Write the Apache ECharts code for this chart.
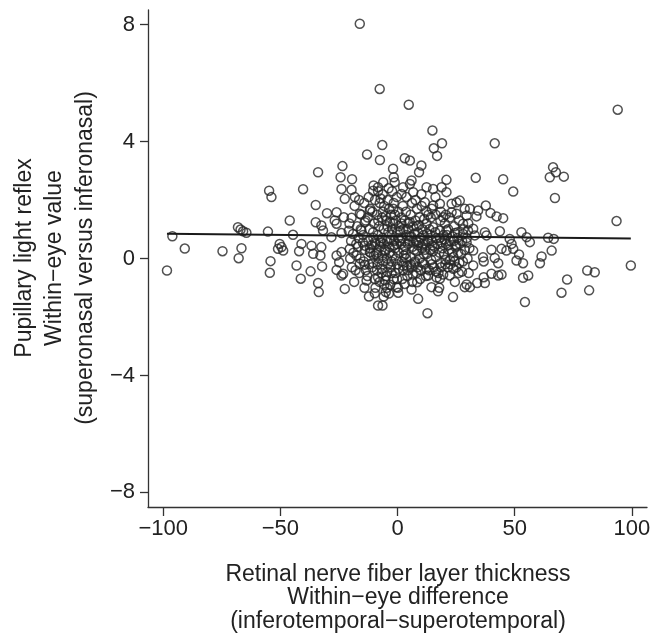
<!DOCTYPE html>
<html><head><meta charset="utf-8">
<script src="https://cdn.jsdelivr.net/npm/echarts@6/dist/echarts.min.js"></script>
<style>html,body{margin:0;padding:0;background:#fff}#c{width:663px;height:633px}</style>
</head><body><div id="c"></div>
<script>
const outerPoints = [
[-16.1,8.03],[-7.6,5.8],[4.8,5.26],[94,5.09],[14.9,4.38],[41.5,3.94],[15.5,3.77],[19,3.94],[16.9,3.51],[-6.5,3.88],[-7.5,3.37],[3.1,3.43],[5.3,3.35],[-1.9,3.07],[-1.6,2.78],[10.2,3.18],[9.2,2.95],[6,2.67],[20.9,2.69],
[-33.9,2.95],[-23.5,3.16],[-24.3,2.78],[-19.4,2.71],[-13,3.56],
[33.4,2.76],[45.1,2.71],[66.4,3.12],[67.6,2.95],[65,2.78],[71,2.8],
[93.5,1.28],[99.6,-0.24],[72.4,-0.72],[81,-0.41],[84.2,-0.47],[81.8,-1.09],[70,-1.17],
[-54.8,2.32],[-53.8,2.1],[-96.1,0.76],[-90.8,0.34],[-98.4,-0.41],[-74.7,0.25],[-68.1,1.07],[-67,0.99],[-65.9,0.93],[-64.5,0.88],[-66.6,0.35],[-67.8,0.01],[-55.3,0.92],[-54.2,-0.09],[-54.5,-0.49],[-50.3,0.5],[-49.5,0.39],[-51,0.33],[-48.8,0.27],[-46,1.3],
[-40.3,2.37],[-23.9,2.38],[-19.6,2.35],[-22.5,2.04],[-18.2,2.1],[-10.4,2.32],[-8.3,2.44],[-34.9,1.83],[-30.1,1.55],[-26,1.58],[-26.8,1.3],[-22.9,1.41],[-19.6,1.39],[-34.9,1.24],[-32.5,1.13],[-31.8,0.96],[-26,1.19],[-23.9,0.87],[-44.6,0.81],[-28.2,0.73],[-19,0.84],[-15.4,0.96],[-14,1.24],[-11.8,1.64],[-16.1,1.53],[-41,0.5],[-42,0.25],[-36.7,0.44],[-32.5,0.39],[-36,0.16],[-32.9,0.1],[-23.9,0.22],[-26,0.1],[-20.4,0.33],[-17.5,0.1],[-14,0.44],[-9.7,0.56],[-11.8,0.22],
[-6.1,2.61],[-1.2,2.61],[2.4,2.44],[5.3,2.55],[6.7,2.27],[1.7,2.21],[3.8,2.1],[12.4,2.44],[15.2,2.38],[18.8,2.44],[20.9,2.27],[11.7,1.92],[15.2,1.81],[18.1,1.87],[23.1,1.87],[25.2,1.92],[26.6,1.98],[28.7,1.7],[25.2,1.53],[23.1,1.58],[19.5,1.41],[28,1.19],[29.5,1.47],[9.5,1.41],[12.4,1.19],[15.2,1.07],[18.1,0.96],[20.9,0.96],[24.5,0.87],[28,0.84],[30.1,0.96],
[49.4,2.29],[67.2,2.07],[30.9,1.7],[34.4,1.64],[37.7,1.81],[39.7,1.56],[42.3,1.44],[45.1,1.38],[33.7,1.44],[32.3,1.02],[37.3,0.9],[33,0.79],[38,0.79],[43.7,0.93],[52.9,0.9],[55.1,0.73],[56.5,0.56],[47.9,0.67],[48.7,0.5],[46.5,0.27],[44.4,0.33],[40.1,0.3],[49.4,0.33],[64.3,0.71],[66.7,0.67],[65.8,0.27],[61.5,0.07],[51.9,0.14],[41.5,0.02],[36.5,0.04],[32.3,0.27],
[-43.1,-0.24],[-41.3,-0.69],[-37.1,-0.44],[-32.2,-0.27],[-26,-0.39],[-24.9,-0.13],[-33.9,-0.84],[-33.6,-1.15],[-23.9,-0.58],[-23.2,-0.52],[-22.5,-1.04],[-16.1,-0.18],[-14,-0.21],[-13.2,-0.75],[-9.7,-1.19],[-8.3,-1.61],[-8.3,-0.64],
[-5,-1.15],[-0.4,-0.98],[0.3,-1.17],[6,-1.06],[3.1,-0.87],[8.4,-0.81],[8.8,-1.38],[-6.4,-1.61],[12.8,-1.87],[14.5,-0.98],[17.3,-1.12],[23.7,-1.32],[28.7,-0.98],[29.5,-0.89],[13.1,-0.58],[18.1,-0.69],[22.3,-0.58],[25.2,-0.3],
[32.3,-0.24],[36.8,-0.1],[43,-0.16],[50.8,-0.07],[53.6,-0.16],[60.8,-0.16],[30.9,-0.98],[34,-0.84],[36.8,-0.64],[37.3,-0.84],[40.1,-0.52],[43,-0.58],[44.4,-0.55],[53.6,-0.66],[55.8,-0.58],[54.4,-1.49]
];
const corePoints = [
[-20.5,1.2],[-19.8,0.6],[-20.2,0.0],[-19.5,-0.3],[-20.8,0.95],
[-18.3,1.8],[-17.6,0.5],[-18.8,0.2],[-17.9,-0.4],[-18.5,-0.8],[-17.2,1.1],
[-16.4,2.0],[-15.7,1.0],[-16.8,0.4],[-15.9,0.0],[-16.3,-0.5],[-15.5,1.5],[-16.6,0.7],
[-14.2,1.9],[-13.6,1.3],[-14.7,0.8],[-13.9,0.3],[-14.4,-0.1],[-13.5,-0.4],[-14.1,-1.0],[-14.8,0.55],
[-12.3,2.1],[-11.6,1.7],[-12.7,1.4],[-11.9,1.0],[-12.4,0.6],[-11.5,0.2],[-12.1,-0.2],[-12.8,-0.6],[-11.7,0.35],[-12.2,-1.3],
[-10.2,2.5],[-9.6,2.0],[-10.7,1.6],[-9.9,1.2],[-10.4,0.9],[-9.5,0.5],[-10.1,0.1],[-10.8,-0.3],[-9.7,-0.7],[-10.3,0.7],[-9.4,-1.0],
[-8.3,2.3],[-7.6,1.9],[-8.7,1.5],[-7.9,1.1],[-8.4,0.8],[-7.5,0.4],[-8.1,0.0],[-8.8,-0.4],[-7.7,-0.8],[-8.2,1.3],[-7.4,0.6],[-8.6,0.2],
[-6.3,2.2],[-5.7,1.8],[-6.6,1.4],[-5.9,1.0],[-6.4,0.7],[-5.5,0.3],[-6.1,-0.1],[-6.8,-0.5],[-5.6,-0.9],[-6.2,1.6],[-5.8,0.5],[-6.5,0.1],[-5.9,-1.3],
[-4.2,2.0],[-3.6,1.7],[-4.7,1.3],[-3.9,0.9],[-4.4,0.6],[-3.5,0.2],[-4.1,-0.2],[-4.8,-0.6],[-3.7,-1.2],[-4.3,1.1],[-3.4,0.4],[-4.6,0.0],[-3.8,2.4],
[-2.3,2.3],[-1.6,1.9],[-2.7,1.5],[-1.9,1.2],[-2.4,0.8],[-1.5,0.45],[-2.1,0.1],[-2.8,-0.3],[-1.7,-0.7],[-2.2,1.0],[-1.4,0.6],[-2.6,-0.1],[-1.8,1.7],
[-0.3,2.1],[0.4,1.6],[-0.7,1.3],[0.1,0.9],[-0.4,0.5],[0.5,0.2],[-0.1,-0.2],[-0.8,-0.5],[0.3,0.7],[-0.6,0.0],[0.6,1.1],[-0.2,-0.7],
[2.3,1.8],[1.6,1.4],[2.5,1.0],[1.9,0.7],[2.6,0.3],[1.8,-0.1],[2.4,-0.4],[1.5,0.5],[2.7,0.1],[2.1,-0.7],[1.7,1.2],
[3.6,1.6],[4.7,1.2],[3.9,0.8],[4.4,0.5],[3.5,0.15],[4.1,-0.25],[4.8,0.6],[3.7,0.0],[4.2,-0.6],[4.5,1.0],
[6.2,1.9],[5.6,1.5],[6.7,1.1],[5.9,0.75],[6.4,0.4],[5.5,0.05],[6.1,-0.3],[6.8,0.55],[5.7,-0.2],[6.3,-0.8],
[8.3,1.7],[7.6,1.3],[8.7,0.9],[7.9,0.6],[8.4,0.25],[7.5,-0.1],[8.1,-0.5],[8.8,0.45],[7.7,2.0],[8.2,1.1],[7.4,-0.15],
[10.2,2.2],[10.7,1.0],[9.9,0.7],[10.4,0.35],[9.5,0.0],[10.1,-0.4],[10.8,0.5],[9.7,-0.7],[10.3,1.8],
[12.3,1.6],[12.7,0.85],[11.9,0.5],[12.4,0.15],[11.5,-0.2],[12.1,-0.6],[12.8,0.65],[11.7,0.3],[11.4,1.35],
[14.2,1.4],[13.6,1.0],[14.7,0.6],[13.9,0.3],[14.4,-0.05],[13.5,-0.4],[14.1,0.8],[14.6,1.7],[14.8,0.45],
[16.3,1.5],[16.6,0.7],[15.8,0.4],[16.4,0.05],[15.5,-0.3],[16.1,0.9],[16.7,-0.65],[16.2,2.1],
[18.3,1.3],[18.7,0.55],[17.9,0.2],[18.4,-0.15],[17.5,-0.5],[18.1,0.7],[18.5,1.6],[17.8,-1.0],
[20.2,1.2],[19.6,0.8],[20.7,0.5],[19.9,0.15],[20.4,-0.2],[20.1,0.65],[19.5,-0.55],[20.6,1.5],
[22.3,1.4],[21.6,1.0],[22.7,0.6],[21.9,0.3],[22.4,-0.05],[21.7,0.45],[21.5,-0.3],
[24.2,1.1],[23.6,0.75],[24.7,0.4],[23.9,0.05],[23.8,-0.35],[24.1,0.6],[24.5,-0.8],
[26.3,1.3],[25.7,0.9],[26.6,0.5],[25.9,0.2],[26.4,-0.15],[25.5,0.7],[26.1,-0.5],
[28.2,1.0],[27.6,0.6],[28.7,0.3],[27.9,-0.1],[27.5,-0.45],
[30.2,1.2],[29.6,0.7],[30.7,0.35],[29.9,0.0],[30.4,-0.5],[29.5,0.55]
];
const bandPoints = [
[-11.1,0.45],[-9.2,0.15],[-7.1,0.55],[-5.2,0.25],[-3.1,0.65],[-1.1,0.35],[1.1,0.6],[3.2,0.4],[5.1,0.75],[7.2,0.3],[9.1,0.55],[11.2,0.15],[13.1,0.6],[15.2,0.25],[17.1,0.5],[19.2,0.35],[21.1,0.8],[23.2,0.2],[25.1,0.45],[27.2,0.15],
[-10.4,-0.15],[-8.5,-0.2],[-6.6,-0.35],[-4.4,-0.45],[-2.5,-0.5],[0.4,-0.35],[2.5,-0.25],[4.4,-0.4],[6.5,-0.55],[8.6,-0.3],[10.5,-0.15],[12.4,-0.35],[14.6,-0.2],[16.5,-0.45],[18.6,-0.3],[20.5,-0.05],[22.6,-0.2],[24.4,-0.1],
[-5.1,1.45],[-3.2,1.25],[-1.1,1.5],[1.2,0.95],[3.1,1.3],[5.2,1.25],[7.1,0.85],[9.2,1.15],[11.1,0.8],[13.2,1.5],[-7.2,2.05],[-5.3,-0.75],[-4.5,-1.0],[-3.1,-0.9],[0.2,-1.0]
];
const fitLine = [[-98.4,0.85],[99.6,0.68]];
const xTicks = [-100,-50,0,50,100];
const yTicks = [-8,-4,0,4,8];
const xTitleLines = ['Retinal nerve fiber layer thickness','Within\u2212eye difference','(inferotemporal\u2212superotemporal)'];
const yTitleLines = ['Pupillary light reflex','Within\u2212eye value','(superonasal versus inferonasal)'];

const FONT = 'Liberation Sans, Arial, Helvetica, sans-serif';
const INK = '#222';
const fmt = v => String(v).replace('-', '\u2212');
const chart = echarts.init(document.getElementById('c'), null, {renderer:'canvas'});

const graphics = [];
const xTitleY = [575, 598, 622];
xTitleLines.forEach((t,i) => graphics.push({type:'text', x:398, y:xTitleY[i], style:{text:t, fill:INK, font:'23px ' + FONT, align:'center', verticalAlign:'middle'}}));
const yTitleX = [25, 55, 86];
yTitleLines.forEach((t,i) => graphics.push({type:'text', x:yTitleX[i], y:258, rotation:Math.PI/2, style:{text:t, fill:INK, font:'23px ' + FONT, align:'center', verticalAlign:'middle'}}));

chart.setOption({
  animation:false,
  backgroundColor:'#fff',
  grid:{left:148, right:16, top:10, bottom:126, containLabel:false},
  xAxis:{type:'value', min:-106.5, max:106.5,
    axisLine:{show:true, onZero:false, lineStyle:{color:'#333', width:1.3}},
    axisTick:{show:true, inside:false, length:9, customValues:xTicks, lineStyle:{color:'#333', width:1.3}},
    axisLabel:{customValues:xTicks, formatter:fmt, fontSize:22, color:INK, fontFamily:FONT, margin:11},
    splitLine:{show:false}},
  yAxis:{type:'value', min:-8.5, max:8.5,
    axisLine:{show:true, onZero:false, lineStyle:{color:'#333', width:1.3}},
    axisTick:{show:true, inside:false, length:8, customValues:yTicks, lineStyle:{color:'#333', width:1.3}},
    axisLabel:{customValues:yTicks, formatter:fmt, fontSize:22, color:INK, fontFamily:FONT, margin:13},
    splitLine:{show:false}},
  graphic:graphics,
  series:[
    {type:'scatter', data:outerPoints.concat(corePoints, bandPoints), symbol:'circle', symbolSize:9,
      itemStyle:{color:'rgba(255,255,255,0)', borderColor:'#262626', borderWidth:1.5}, z:2},
    {type:'line', data:fitLine, symbol:'none', lineStyle:{color:'#1a1a1a', width:2}, z:3}
  ]
});
</script></body></html>
